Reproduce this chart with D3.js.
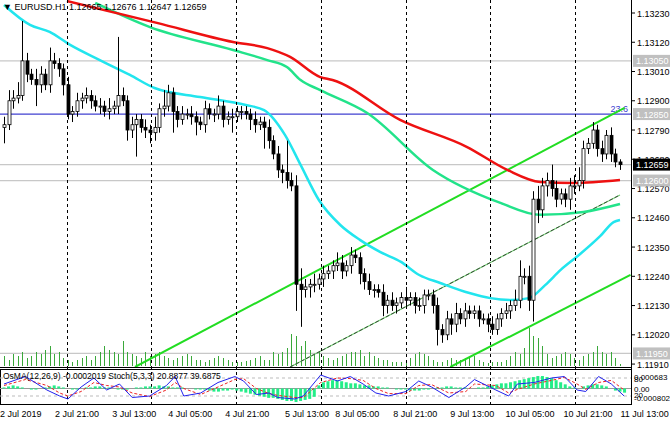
<!DOCTYPE html>
<html><head><meta charset="utf-8">
<script src="https://cdn.jsdelivr.net/npm/d3@7/dist/d3.min.js"></script>
<style>body{margin:0;background:#fff}svg{display:block}text{font-family:"Liberation Sans",Arial,sans-serif}</style>
</head><body><svg id="c" width="670" height="425"></svg>
<script>
// closes in pips above 1.12000
const closes=[81,90,91,92,105,100,98,96,100,96,105,104,102,96,85,86,90,91,92,90,88,88,86,87,88,92,90,79,81,83,80,79,78,80,87,88,93,86,83,85,85,84,82,81,87,85,85,88,83,84,84,86,86,85,83,81,82,80,75,70,64,63,60,58,21,19,20,21,21,23,25,26,28,29,26,28,32,31,25,22,19,19,18,13,15,13,14,16,15,16,13,13,17,17,13,4,2,8,6,10,8,11,10,11,8,8,6,4,8,10,11,13,15,24,24,15,53,49,58,60,57,53,55,53,58,58,60,72,74,79,72,70,77,70,67,66];
const wickUp=[3,4,3,5,15,3,2,4,3,2,5,3,2,2,3,2,3,2,3,2,2,3,2,4,2,22,3,2,3,2,2,3,2,4,2,6,3,2,2,3,2,3,2,2,3,2,2,4,2,2,3,2,2,2,2,3,2,2,3,2,3,2,12,3,4,6,3,2,4,2,3,2,2,4,3,2,3,2,2,2,3,2,2,3,2,3,2,2,4,2,2,3,2,2,2,3,2,3,2,4,2,3,2,2,2,2,2,3,2,2,3,2,4,6,3,4,3,5,3,3,6,3,2,2,3,4,5,3,2,3,2,3,2,3,2,1];
const wickDn=[6,2,3,2,2,3,2,8,3,2,3,2,3,4,2,3,2,3,2,3,2,3,2,3,2,3,2,4,3,12,2,3,4,3,2,3,2,8,3,2,2,3,5,2,3,2,3,2,3,2,6,2,3,2,4,3,2,8,3,2,3,4,3,2,10,14,3,4,3,2,3,2,3,2,3,2,3,2,4,3,2,3,2,4,3,2,3,2,3,2,3,2,3,2,3,6,3,2,4,3,2,3,2,2,3,2,3,2,2,3,2,3,2,3,3,4,8,5,3,4,3,3,2,3,4,3,2,3,2,2,3,3,2,3,2,2];
const volume=[10,6,12,10,14,8,10,14,12,16,20,12,14,8,6,4,6,8,10,6,10,14,20,16,14,12,25,14,12,10,8,14,10,12,14,10,8,6,8,10,12,10,6,6,4,6,8,10,8,6,4,4,4,5,6,8,10,6,6,14,12,14,18,32,30,20,25,16,12,14,10,8,6,8,10,12,14,14,16,10,14,10,8,6,6,4,4,4,6,8,12,14,12,10,6,4,4,6,8,6,6,8,10,10,6,4,3,4,4,4,6,10,14,12,18,38,30,28,20,12,8,10,12,14,12,8,6,10,12,14,20,14,12,14,8,2];
const maFast=[[0,126],[5.7,118.5],[10,115.9],[14.5,111],[21,105.3],[27.6,99.7],[33,94.8],[43,91.4],[53,88.4],[57,86.5],[61.6,77.1],[65,65.9],[69,52.7],[73.7,43.3],[78,37.7],[82.5,33.1],[87,29.4],[91,24.5],[95.6,21.5],[102,17.7],[106.6,15.8],[111,15.1],[115,15.8],[118.6,20.7],[122,26.4],[126,32],[130.7,39.2],[133.6,44.4],[135,45.2]];
const maMid=[[20,126.8],[32,117.7],[50.2,109.1],[57.7,105.3],[62,102.7],[65,97.8],[69.3,94],[79.6,85.4],[94,64],[108.8,51.6],[117.5,47.1],[127,48.2],[135,51.2]];
const maSlow=[[13.8,127.5],[33.5,119.3],[50.2,112.1],[57.7,109.8],[62.7,106.5],[69.3,98.9],[72,97.8],[86.8,82.8],[101.5,72.6],[110.3,64],[117.5,59.5],[124.8,59.1],[135,60.2]];
const chanUpper=[[28.7,-10.1],[136,87.3]];
const chanLower=[[97.8,-10.1],[137.3,24.5]];
const chanMid=[[62.7,-10.1],[135,54.6]];
const hLevels=[105,66,60,-5];
const fibLevel=85;
const priceTicks=[1.13230,1.13120,1.13010,1.12900,1.12790,1.12680,1.12570,1.12460,1.12350,1.12240,1.12130,1.12020,1.11910];
const boxLabels=[[1.13050,"1.13050"],[1.12850,"1.12850"],[1.12600,"1.12600"],[1.11950,"1.11950"]];
const dateLabels=["2 Jul 2019","2 Jul 21:00","3 Jul 13:00","4 Jul 05:00","4 Jul 21:00","5 Jul 13:00","8 Jul 05:00","8 Jul 21:00","9 Jul 13:00","10 Jul 05:00","10 Jul 21:00","11 Jul 13:00"];
const dateIdx=[-0.9,11.2,23.7,36,48.5,61.6,72.6,85.3,97.8,109.9,122.6,135.1];
const gridIdx=[13.8,32.2,50.9,69.5,88,106.6,125.2];
const stochMain=[[0,60],[4.7,85],[9.4,40],[12.2,20],[14,10],[16.9,50],[19.7,80],[22.5,40],[25.3,60],[28.1,15],[31.9,20],[35.6,55],[37.5,85],[39.4,20],[43.1,30],[46.9,65],[50.6,85],[52.5,70],[55.3,25],[58.1,30],[60,15],[63.7,10],[65.6,20],[69.4,90],[73.1,70],[75.9,85],[78.7,60],[81.5,30],[84.3,20],[88.1,35],[90.9,70],[93.7,50],[97.5,15],[101.2,50],[103.1,75],[107.8,40],[110.6,20],[112.5,60],[116.2,65],[120,80],[122.8,85],[125.6,40],[127.5,35],[130.3,85],[133.1,60],[135.9,20]];
const stochSignal=[[0,55],[4.7,75],[9.4,55],[12.2,30],[14,20],[16.9,35],[19.7,65],[22.5,55],[25.3,50],[28.1,30],[31.9,18],[35.6,40],[37.5,65],[39.4,45],[43.1,25],[46.9,50],[50.6,75],[52.5,78],[55.3,45],[58.1,28],[60,22],[63.7,15],[65.6,15],[69.4,65],[73.1,80],[75.9,78],[78.7,72],[81.5,45],[84.3,28],[88.1,28],[90.9,55],[93.7,58],[97.5,30],[101.2,35],[103.1,60],[107.8,55],[110.6,30],[112.5,42],[116.2,60],[120,72],[122.8,82],[125.6,60],[127.5,42],[130.3,65],[133.1,72],[135.9,40]];
const osma=[1,2,3,2,1,0,-1,-1,0,1,2,3,2,1,0,-1,-1,0,1,1,2,2,1,1,0,-1,-1,-1,0,1,1,2,2,2,3,2,2,1,1,1,0,0,-1,-1,-1,-2,-3,-3,-2,-2,-1,-2,-3,-4,-5,-6,-7,-8,-9,-9,-10,-11,-12,-12,-13,-12,-11,-10,-8,3,6,7,8,8,7,6,5,5,4,3,3,2,2,1,1,0,-1,-1,-1,-2,-2,-2,-1,-1,0,1,1,2,2,1,1,1,0,0,1,1,2,3,4,5,5,6,7,8,9,10,11,12,12,11,10,8,6,4,2,1,0,2,3,4,4,3,2,0,-2,-3,-4];

const svg=d3.select("#c");
const x=d3.scaleLinear().domain([0,closes.length-1]).range([4,620]);
const y=d3.scaleLinear().domain([123,-10.1]).range([13,367]);
const pv=p=>Math.round((p-1.12)*100000)/10;
const PR=631;
svg.append("defs").append("clipPath").attr("id","mc").append("rect").attr("x",0).attr("y",0).attr("width",PR).attr("height",367);
const g=svg.append("g").attr("clip-path","url(#mc)");
gridIdx.forEach(i=>{svg.append("line").attr("x1",Math.round(x(i))+.5).attr("x2",Math.round(x(i))+.5).attr("y1",0).attr("y2",404).attr("stroke","#000").attr("stroke-dasharray","3,3").attr("stroke-width",1);});
hLevels.forEach(v=>g.append("line").attr("x1",0).attr("x2",PR).attr("y1",y(v)).attr("y2",y(v)).attr("stroke","#c8c8c8").attr("stroke-width",1.2));
g.append("line").attr("x1",0).attr("x2",PR).attr("y1",y(fibLevel)).attr("y2",y(fibLevel)).attr("stroke","#4040d0").attr("stroke-width",1.3);
g.append("text").attr("x",PR-3).attr("y",y(fibLevel)-2).attr("text-anchor","end").attr("font-size",9).attr("fill","#4040d0").text("23.6");
const vy=d3.scaleLinear().domain([0,40]).range([366,326]);
g.selectAll(".v").data(volume).join("line").attr("x1",(d,i)=>Math.round(x(i))+.5).attr("x2",(d,i)=>Math.round(x(i))+.5).attr("y1",366).attr("y2",d=>vy(d)).attr("stroke","#3aa83a").attr("stroke-width",1);
const ln=d3.line().x(d=>x(d[0])).y(d=>y(d[1]));
const lnc=d3.line().curve(d3.curveMonotoneX).x(d=>x(d[0])).y(d=>y(d[1]));
g.append("path").attr("d",ln(chanUpper)).attr("stroke","#22dd22").attr("stroke-width",2).attr("fill","none");
g.append("path").attr("d",ln(chanLower)).attr("stroke","#22dd22").attr("stroke-width",2).attr("fill","none");
g.append("path").attr("d",ln(chanMid)).attr("stroke","#7ad87a").attr("stroke-width",1.2).attr("fill","none");
g.append("path").attr("d",ln(chanMid)).attr("stroke","#222").attr("stroke-width",0.8).attr("stroke-dasharray","4,2").attr("fill","none");
g.append("path").attr("d",lnc(maFast)).attr("stroke","#22e5ee").attr("stroke-width",2.5).attr("fill","none");
g.append("path").attr("d",lnc(maMid)).attr("stroke","#22e38a").attr("stroke-width",2.5).attr("fill","none");
g.append("path").attr("d",lnc(maSlow)).attr("stroke","#ee1111").attr("stroke-width",2.5).attr("fill","none");
closes.forEach((c,i)=>{
 const o=i?closes[i-1]:80, hi=Math.max(o,c)+wickUp[i], lo=Math.min(o,c)-wickDn[i];
 const cx=Math.round(x(i))+.5;
 g.append("line").attr("x1",cx).attr("x2",cx).attr("y1",y(hi)).attr("y2",y(lo)).attr("stroke","#000");
 const top=y(Math.max(o,c)), h=Math.max(1,y(Math.min(o,c))-top);
 g.append("rect").attr("x",cx-1.5).attr("y",top).attr("width",3).attr("height",h).attr("fill",c>=o?"#fff":"#000").attr("stroke","#000").attr("stroke-width",0.8);
});
svg.append("text").attr("x",3).attr("y",10).attr("font-size",9).attr("fill","#000").text("▼ EURUSD.H1  1.12665 1.12676 1.12647 1.12659");
svg.append("line").attr("x1",PR+.5).attr("x2",PR+.5).attr("y1",0).attr("y2",405).attr("stroke","#000");
const py=v=>y(pv(v));
priceTicks.forEach(t=>{svg.append("line").attr("x1",PR).attr("x2",PR+4).attr("y1",py(t)).attr("y2",py(t)).attr("stroke","#000");
 svg.append("text").attr("x",PR+6).attr("y",py(t)+3.5).attr("font-size",9).text(t.toFixed(5));});
boxLabels.forEach(b=>{svg.append("rect").attr("x",PR+2).attr("y",py(b[0])-6).attr("width",37).attr("height",12).attr("fill","#c0c0c0");
 svg.append("text").attr("x",PR+5).attr("y",py(b[0])+3.5).attr("font-size",9).attr("fill","#fff").text(b[1]);});
svg.append("rect").attr("x",PR+2).attr("y",y(closes[closes.length-1])-6).attr("width",37).attr("height",12).attr("fill","#000");
svg.append("text").attr("x",PR+5).attr("y",y(closes[closes.length-1])+3.5).attr("font-size",9).attr("fill","#fff").text("1.12659");
const PT=369,PB=404;
svg.append("line").attr("x1",0).attr("x2",PR).attr("y1",367.5).attr("y2",367.5).attr("stroke","#000");
svg.append("rect").attr("x",0.5).attr("y",PT+.5).attr("width",PR).attr("height",PB-PT).attr("fill","none").attr("stroke","#000");
const sy=d3.scaleLinear().domain([0,100]).range([PB-2,PT+3]);
const oy=d3.scaleLinear().domain([-13,13]).range([PB-2,PT+6]);
[80,20].forEach(v=>svg.append("line").attr("x1",0).attr("x2",PR).attr("y1",sy(v)).attr("y2",sy(v)).attr("stroke","#bbb").attr("stroke-dasharray","3,3"));
svg.append("line").attr("x1",0).attr("x2",PR).attr("y1",oy(0)).attr("y2",oy(0)).attr("stroke","#999");
svg.selectAll(".o").data(osma).join("rect").attr("x",(d,i)=>x(i)-1.5).attr("width",3).attr("y",d=>Math.min(oy(d),oy(0))).attr("height",d=>Math.abs(oy(d)-oy(0))).attr("fill","#22ee88");
svg.append("path").attr("d",d3.line().x(d=>x(d[0])).y(d=>sy(d[1]))(stochSignal)).attr("stroke","#ee2222").attr("stroke-dasharray","3,2").attr("fill","none");
svg.append("path").attr("d",d3.line().x(d=>x(d[0])).y(d=>sy(d[1]))(stochMain)).attr("stroke","#2222ee").attr("fill","none");
svg.append("text").attr("x",3).attr("y",PT+10).attr("font-size",8.5).text("OsMA(12,26,9) -0.0002019  Stoch(5,3,3) 20.8877 39.6875");
[["0.000683",sy(80)+2,8],["80",sy(80)+4,8],["0.00",oy(0)+3,8],["20",sy(20)+2,8],["-0.000802",sy(20)+5,8]].forEach(t=>svg.append("text").attr("x",PR+3).attr("y",t[1]).attr("font-size",t[2]).text(t[0]));
dateLabels.forEach((d,i)=>svg.append("text").attr("x",x(dateIdx[i])).attr("y",417).attr("font-size",9).text(d));
</script></body></html>
